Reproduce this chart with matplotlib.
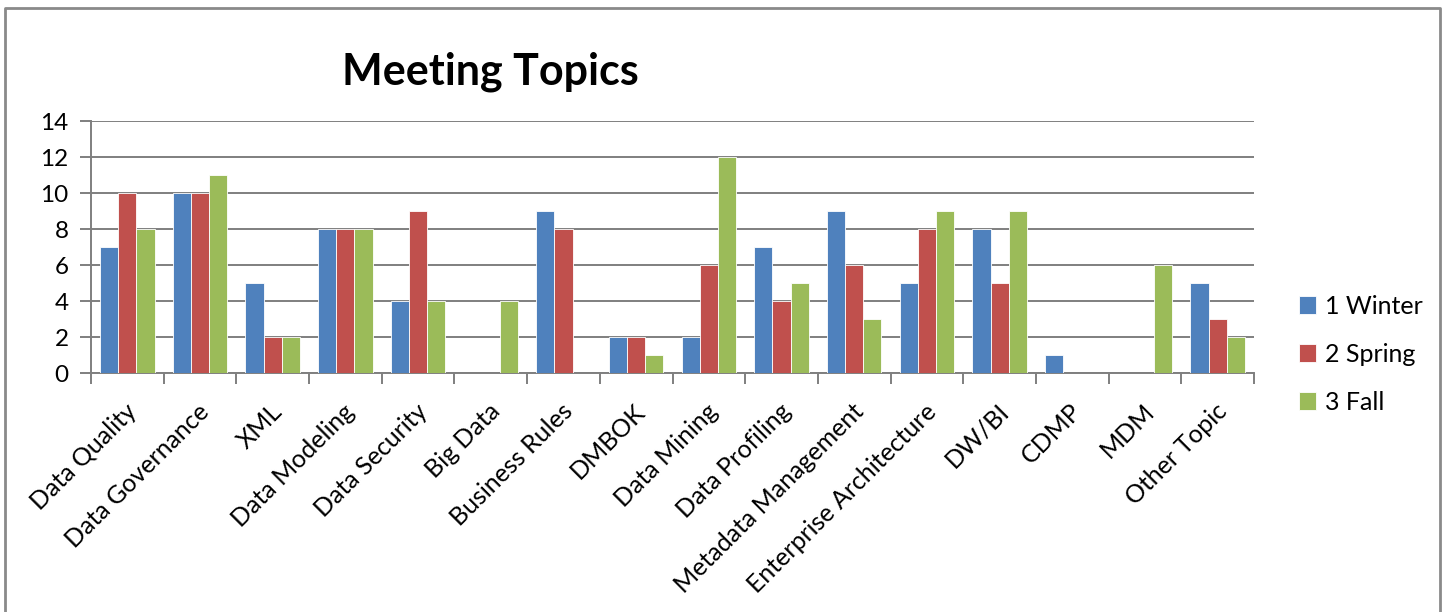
import numpy as np
import matplotlib.pyplot as plt
from matplotlib.lines import Line2D

plt.rcParams['font.family'] = ['Lato', 'DejaVu Sans']

topics = ['Data Quality', 'Data Governance', 'XML', 'Data Modeling', 'Data Security',
          'Big Data', 'Business Rules', 'DMBOK', 'Data Mining', 'Data Profiling',
          'Metadata Management', 'Enterprise Architecture', 'DW/BI', 'CDMP', 'MDM',
          'Other Topic']
winter = [7, 10, 5, 8, 4, 0, 9, 2, 2, 7, 9, 5, 8, 1, 0, 5]
spring = [10, 10, 2, 8, 9, 0, 8, 2, 6, 4, 6, 8, 5, 0, 0, 3]
fall = [8, 11, 2, 8, 4, 4, 0, 1, 12, 5, 3, 9, 9, 0, 6, 2]
series_names = ['1 Winter', '2 Spring', '3 Fall']
colors = ['#4F81BD', '#C0504D', '#9BBB59']

fig = plt.figure(figsize=(14.45, 6.12), dpi=100)
ax = fig.add_axes([91/1445, 1 - 373/612, (1254-91)/1445, (373-121)/612])

x = np.arange(len(topics))
w = 0.25
for i, (vals, name, c) in enumerate(zip([winter, spring, fall], series_names, colors)):
    ax.bar(x + (i - 1) * w, vals, width=w, color=c, edgecolor='white', linewidth=0.6,
           label=name, zorder=3)

ax.set_xlim(-0.5, len(topics) - 0.5)
ax.set_ylim(0, 14)
ax.set_yticks(range(0, 15, 2))
ax.grid(axis='y', color='#7f7f7f', linewidth=1.4, zorder=0)
for s in ['top', 'right']:
    ax.spines[s].set_visible(False)
for s in ['left', 'bottom']:
    ax.spines[s].set_color('#7f7f7f')
    ax.spines[s].set_linewidth(1.4)

ax.set_xticks(np.arange(len(topics) + 1) - 0.5, minor=False)
ax.set_xticklabels([])
ax.tick_params(axis='x', length=8, width=1.4, color='#7f7f7f')
ax.tick_params(axis='y', length=8, width=1.4, color='#7f7f7f', labelsize=17.5, pad=8)
for xi, t in zip(x, topics):
    ax.annotate(t, xy=(xi, 0), xycoords=('data', 'axes fraction'),
                xytext=(4, -25), textcoords='offset points',
                rotation=45, ha='right', va='center', rotation_mode='anchor',
                fontsize=18)

fig.text(490/1445, 1 - 72/612, 'Meeting Topics', fontsize=31, fontweight='bold',
         ha='center', va='center')

fig.legend(loc='upper left', bbox_to_anchor=(1276/1445, 1 - 272/612), frameon=False,
           fontsize=18, handlelength=0.7, handleheight=0.7, handletextpad=0.35,
           labelspacing=1.0)

# outer chart border
fig.add_artist(Line2D([5/1445, 5/1445, 1440/1445, 1440/1445],
                      [0, 1 - 8/612, 1 - 8/612, 0], color='#8a8a8a', linewidth=2))

fig.savefig('out.png', dpi=100)
